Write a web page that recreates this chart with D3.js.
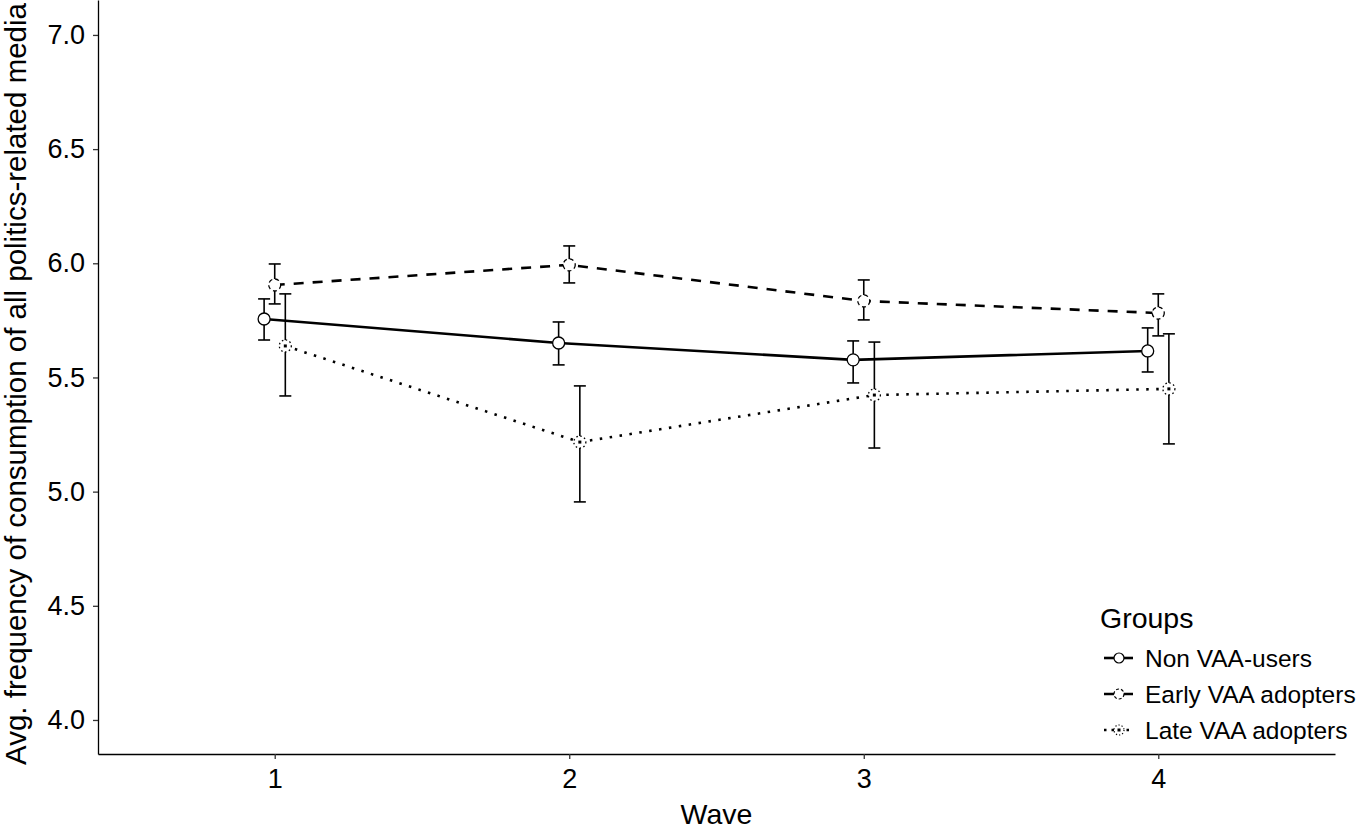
<!DOCTYPE html>
<html>
<head>
<meta charset="utf-8">
<script src="https://cdn.jsdelivr.net/npm/d3@7"></script>
<style>
  html, body { margin: 0; padding: 0; background: #fff; }
  svg text { font-family: "Liberation Sans", Arial, Helvetica, sans-serif; fill: #000; }
</style>
</head>
<body>
<div id="chart"></div>
<script>
// wave means with error bars, three groups

var waves = [1, 2, 3, 4];
var groups = ["Non VAA-users", "Early VAA adopters", "Late VAA adopters"];
var dashes = ["none", "10,9", "2.5,7.5"];
var dodge = [-0.036, 0, 0.036];

var means = {
  "Non VAA-users":      [5.756, 5.651, 5.577, 5.616],
  "Early VAA adopters": [5.905, 5.993, 5.835, 5.782],
  "Late VAA adopters":  [5.638, 5.217, 5.423, 5.450]
};
var lower = {
  "Non VAA-users":      [5.664, 5.555, 5.476, 5.524],
  "Early VAA adopters": [5.822, 5.914, 5.752, 5.682],
  "Late VAA adopters":  [5.419, 4.955, 5.191, 5.209]
};
var upper = {
  "Non VAA-users":      [5.844, 5.743, 5.660, 5.717],
  "Early VAA adopters": [5.997, 6.076, 5.927, 5.866],
  "Late VAA adopters":  [5.866, 5.463, 5.655, 5.691]
};
var yTicks = [4.0, 4.5, 5.0, 5.5, 6.0, 6.5, 7.0];

var width = 1359, height = 833;
var margin = { left: 98, right: 24, top: 0, bottom: 79 };

var svg = d3.select("#chart").append("svg")
    .attr("width", width)
    .attr("height", height);

var x = d3.scaleLinear()
    .domain([0.4, 4.6])
    .range([margin.left, width - margin.right]);

var y = d3.scaleLinear()
    .domain([3.851, 7.153])
    .range([height - margin.bottom, margin.top]);

// axes
var xAxis = svg.append("g")
    .attr("transform", "translate(0," + (height - margin.bottom) + ")")
    .call(d3.axisBottom(x).tickValues(waves).tickFormat(d3.format("d"))
        .tickSizeInner(5).tickSizeOuter(0).tickPadding(10));
var yAxis = svg.append("g")
    .attr("transform", "translate(" + margin.left + ",0)")
    .call(d3.axisLeft(y).tickValues(yTicks).tickFormat(d3.format(".1f"))
        .tickSizeInner(5).tickSizeOuter(0).tickPadding(8));

[xAxis, yAxis].forEach(function(a) {
    a.select(".domain").attr("stroke", "#000").attr("stroke-width", 1.3);
    a.selectAll(".tick line").attr("stroke", "#333").attr("stroke-width", 1.3);
    a.selectAll(".tick text").attr("font-size", 27).attr("fill", "#000");
});

svg.append("text")
    .attr("x", (margin.left + width - margin.right) / 2)
    .attr("y", 824)
    .attr("text-anchor", "middle")
    .attr("font-size", 28.5)
    .text("Wave");

svg.append("text")
    .attr("transform", "translate(26,384) rotate(-90)")
    .attr("text-anchor", "middle")
    .attr("font-size", 29.5)
    .text("Avg. frequency of consumption of all politics-related media");

// series
var line = d3.line()
    .x(function(d) { return x(d.w); })
    .y(function(d) { return y(d.m); });

groups.forEach(function(g, gi) {
    var pts = waves.map(function(w, i) {
        return { w: w + dodge[gi], m: means[g][i], lo: lower[g][i], hi: upper[g][i] };
    });

    svg.append("path")
        .datum(pts)
        .attr("fill", "none")
        .attr("stroke", "#000")
        .attr("stroke-width", 2.6)
        .attr("stroke-dasharray", dashes[gi])
        .attr("d", line);

    var eb = svg.append("g").selectAll("g").data(pts).enter().append("g");
    eb.append("line")
        .attr("x1", function(d) { return x(d.w); })
        .attr("x2", function(d) { return x(d.w); })
        .attr("y1", function(d) { return y(d.lo); })
        .attr("y2", function(d) { return y(d.hi); })
        .attr("stroke", "#000").attr("stroke-width", 1.6);
    [ "lo", "hi" ].forEach(function(k) {
        eb.append("line")
            .attr("x1", function(d) { return x(d.w) - 6; })
            .attr("x2", function(d) { return x(d.w) + 6; })
            .attr("y1", function(d) { return y(d[k]); })
            .attr("y2", function(d) { return y(d[k]); })
            .attr("stroke", "#000").attr("stroke-width", 1.6);
    });

    svg.append("g").selectAll("circle").data(pts).enter().append("circle")
        .attr("cx", function(d) { return x(d.w); })
        .attr("cy", function(d) { return y(d.m); })
        .attr("r", 6)
        .attr("fill", "#fff")
        .attr("stroke", "#000")
        .attr("stroke-width", 1.3)
        .attr("stroke-dasharray", gi === 0 ? "none" : (gi === 1 ? "4,3" : "1.5,2.5"));
    if (gi === 2) {
        svg.append("g").selectAll("rect").data(pts).enter().append("rect")
            .attr("x", function(d) { return x(d.w) - 1.5; })
            .attr("y", function(d) { return y(d.m) - 1.5; })
            .attr("width", 3).attr("height", 3)
            .attr("fill", "#000");
    }
});

// legend
var lg = svg.append("g").attr("transform", "translate(1100,0)");
lg.append("text").attr("x", 0).attr("y", 628).attr("font-size", 28.5).text("Groups");
groups.forEach(function(g, gi) {
    var cy = 658 + gi * 36;
    lg.append("line")
        .attr("x1", 4).attr("x2", 33)
        .attr("y1", cy).attr("y2", cy)
        .attr("stroke", "#000").attr("stroke-width", 2.6)
        .attr("stroke-dasharray", gi === 0 ? "none" : (gi === 1 ? "10,9" : "2.5,5"));
    lg.append("circle")
        .attr("cx", 19).attr("cy", cy).attr("r", 5)
        .attr("fill", "#fff").attr("stroke", "#000").attr("stroke-width", 1.2)
        .attr("stroke-dasharray", gi === 0 ? "none" : (gi === 1 ? "3,2" : "1.2,2"));
    if (gi === 2) lg.append("rect").attr("x", 17.5).attr("y", cy - 1.5).attr("width", 3).attr("height", 3).attr("fill", "#000");
    lg.append("text").attr("x", 45).attr("y", cy + 8.5).attr("font-size", 24.5).text(g);
});
</script>
</body>
</html>
